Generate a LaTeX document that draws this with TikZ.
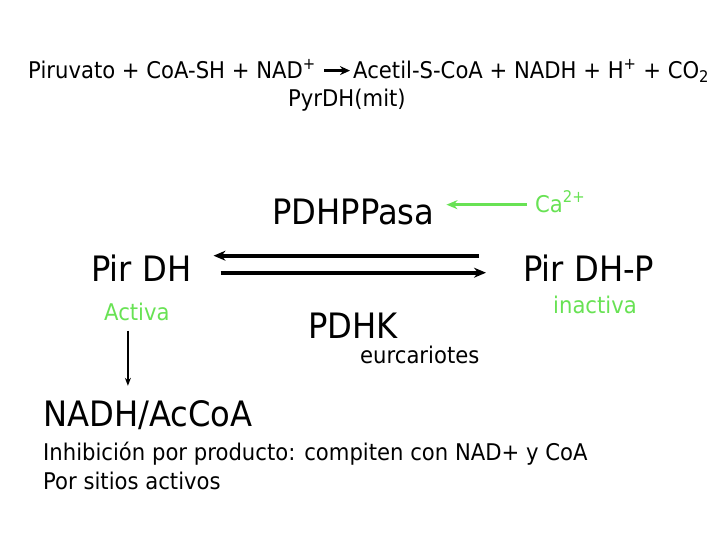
\documentclass[tikz,border=0pt]{standalone}
\usepackage{fontspec}
\setmainfont{DejaVu Sans}[FakeStretch=0.92]
\usepackage{xcolor}
\usetikzlibrary{arrows.meta, positioning}
\definecolor{actgreen}{RGB}{104,226,84}

\begin{document}
\begin{tikzpicture}[x=1pt, y=-1pt,
  txt/.style={anchor=base west, inner sep=0pt,
              font=\fontsize{23}{27}\selectfont},
  big/.style={txt, font=\fontsize{35}{40}\selectfont},
  note/.style={txt, text=actgreen},
  eqarrow/.style={line width=3.8pt, -{Stealth[length=12pt,width=10pt]}},
  rxn/.style={line width=2.4pt, -{Stealth[length=10pt,width=9pt]}}]

  \useasboundingbox (0,0) rectangle (720,540);

  % reaccion global
  \node[txt] (sust) at (28,79) {Piruvato + CoA-SH + NAD\textsuperscript{+}};
  \node[txt] (prod) at (353,79)
    {Acetil-S-CoA + NADH + H\textsuperscript{+} + CO\textsubscript{2}};
  \node[txt] (enz) at (288,107) {PyrDH(mit)};
  \draw[rxn] ([xshift=8pt,yshift=-1pt]sust.east)
    -- ([xshift=-3pt,yshift=-1pt]sust.east -| prod.west);

  % regulacion
  \node[big] (ppasa) at (272,225) {PDHPPasa};
  \node[note] (ca) at (535,212) {Ca\textsuperscript{2+}};
  \draw[line width=3.6pt, actgreen, -{Stealth[length=11pt,width=9pt]}]
    ([xshift=-8pt,yshift=-3pt]ca.west) -- ([xshift=12pt,yshift=-3pt]ca.west -| ppasa.east);

  \node[big] (pirdh) at (91,281) {Pir DH};
  \node[big] (pirdhp) at (523,281) {Pir DH-P};
  \draw[eqarrow, shorten <=44pt, shorten >=22pt]
    ([yshift=12pt]pirdhp.west) -- ([yshift=12pt]pirdhp.west -| pirdh.east);
  \draw[eqarrow, shorten <=29pt, shorten >=37pt]
    ([yshift=-5pt]pirdh.east) -- ([yshift=-5pt]pirdh.east -| pirdhp.west);

  \node[note] (activa) at (104,320) {Activa};
  \node[note] (inactiva) at (553,313) {inactiva};
  \node[big] (pdhk) at (308,338) {PDHK};
  \node[txt] (euc) at (360,363) {eurcariotes};

  % inhibicion
  \node[big] (nadh) at (43,426) {NADH/AcCoA};
  \node[txt] (inh) at (43,460) {Inhibición por producto: compiten con NAD+ y CoA};
  \node[txt] (sitios) at (43,489) {Por sitios activos};
  \draw[line width=1.3pt, -{Stealth[length=8pt,width=6pt]}, shorten <=10pt, shorten >=14pt]
    ([xshift=-9pt]activa.south) -- ([xshift=-9pt]activa.south |- nadh.north);
\end{tikzpicture}
\end{document}
